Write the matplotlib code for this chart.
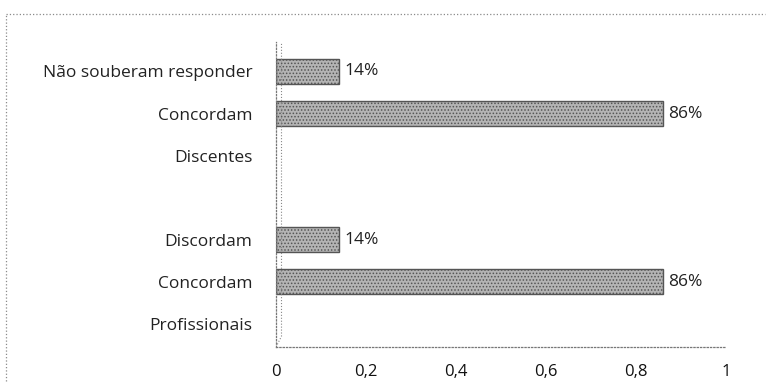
import matplotlib.pyplot as plt
from matplotlib.lines import Line2D

# Categorias de baixo para cima (linha vazia separa os grupos)
categorias = ["Profissionais", "Concordam", "Discordam", "",
              "Discentes", "Concordam", "Não souberam responder"]
valores = [None, 0.86, 0.14, None, None, 0.86, 0.14]
rotulos = ["", "86%", "14%", "", "", "86%", "14%"]
ticks_x = [0, 0.2, 0.4, 0.6, 0.8, 1]
ticks_txt = ["0", "0,2", "0,4", "0,6", "0,8", "1"]

plt.rcParams['font.family'] = ['Open Sans', 'DejaVu Sans']
plt.rcParams['hatch.linewidth'] = 0.7

fig = plt.figure(figsize=(7.71, 3.89), dpi=100)
W, H = 771, 389
ax = fig.add_axes([276 / W, 1 - 347 / H, 450 / W, (347 - 42) / H])

pos = list(range(len(categorias)))
for y, v, r in zip(pos, valores, rotulos):
    if v is None:
        continue
    ax.barh(y, v, height=0.6, color='#b4b4b4', edgecolor='#555555',
            linewidth=1.0, hatch='.....')
    ax.text(v + 0.012, y, r, va='center', ha='left', fontsize=12.5,
            color='#222222')

ax.set_xlim(0, 1)
ax.set_ylim(-0.55, 6.7)
ax.set_yticks(pos)
ax.set_yticklabels(categorias, fontsize=12.5, color='#222222')
ax.set_xticks(ticks_x)
ax.set_xticklabels(ticks_txt, fontsize=12, color='#111111')
ax.tick_params(length=0, pad=17, axis='y')
ax.tick_params(length=0, pad=12, axis='x')

for lado in ['top', 'right']:
    ax.spines[lado].set_visible(False)
for lado in ['left', 'bottom']:
    ax.spines[lado].set_linestyle(':')
    ax.spines[lado].set_color('#777777')
    ax.spines[lado].set_linewidth(0.9)

# parede de fundo do grafico 3D
ax.plot([0.012, 0.012], [-0.3, 6.7], ls=':', color='#888888', lw=0.8)
ax.plot([0.0, 0.012], [-0.55, -0.3], ls=':', color='#888888', lw=0.8)

# moldura pontilhada da area do grafico
fig.add_artist(Line2D([6 / W, 1 - 6 / W], [1 - 14 / H, 1 - 14 / H],
                      ls=':', color='#8a8a8a', lw=0.9))
fig.add_artist(Line2D([6 / W, 6 / W], [0.02, 1 - 14 / H],
                      ls=':', color='#8a8a8a', lw=0.9))

fig.savefig("out.png", dpi=100)
